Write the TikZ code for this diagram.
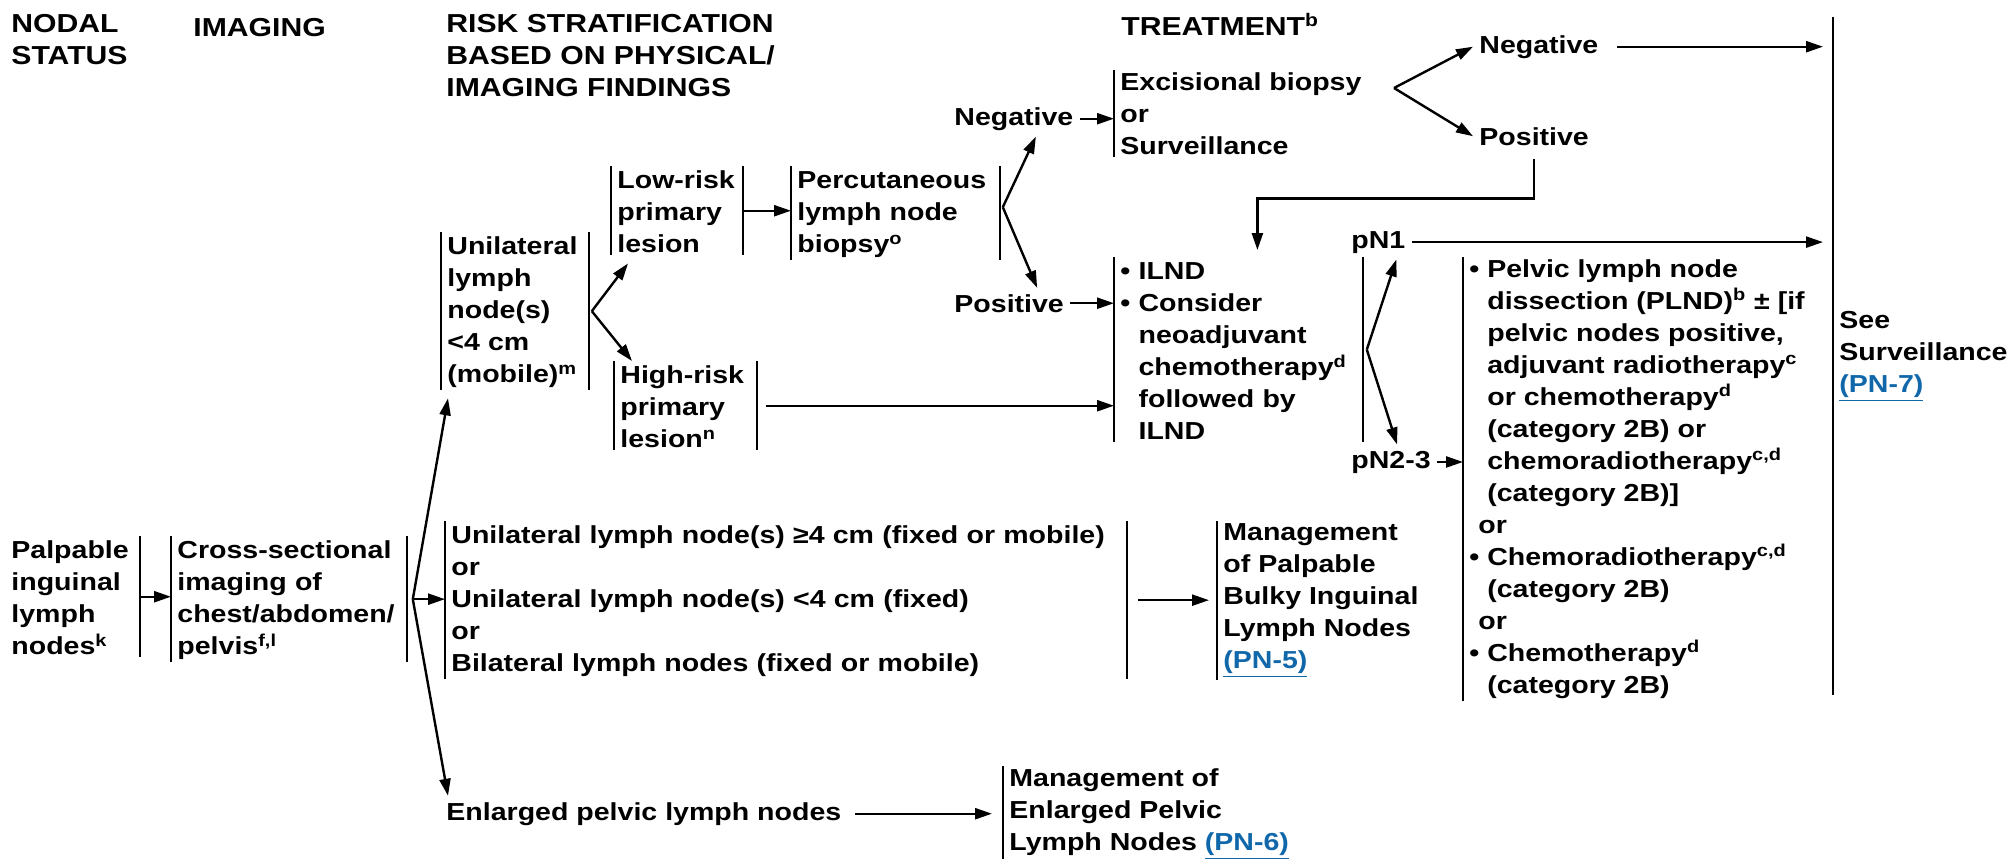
\documentclass[tikz,border=0pt]{standalone}
\usepackage{fontspec}
\setmainfont{Liberation Sans}[FakeStretch=1.16]
\usetikzlibrary{positioning,arrows.meta}
\definecolor{linkblue}{RGB}{16,104,170}
\newcommand{\bodyfont}{\fontsize{12.3}{16}\selectfont\bfseries}
\newcommand{\headfont}{\fontsize{13}{16}\selectfont\bfseries}
\newcommand{\bul}{\textbullet\ }
\newcommand{\indt}{\hphantom{\textbullet\ }}
\newcommand{\lnk}[1]{\textcolor{linkblue}{\underline{#1}}}

\begin{document}
\begin{tikzpicture}[x=0.5pt, y=-0.5pt,
  bx/.style={font=\bodyfont, align=left, inner xsep=3pt, inner ysep=1pt, anchor=north west,
    execute at begin node={\hyphenpenalty=10000\exhyphenpenalty=10000\rule{0pt}{10.2pt}}},
  lab/.style={font=\bodyfont, inner sep=3pt, anchor=base west},
  hd/.style={font=\headfont, align=left, inner sep=0pt, anchor=north west, execute at begin node=\rule{0pt}{11pt}},
  br/.style={draw, line width=1.2pt},
  lb/.style={append after command={(\tikzlastnode.north west) edge[br] (\tikzlastnode.south west)}},
  rb/.style={append after command={(\tikzlastnode.north east) edge[br] (\tikzlastnode.south east)}},
  ar/.style={draw, line width=1.2pt, -{Triangle[length=8.5pt, width=5.5pt]}}]
	\useasboundingbox (0,0) rectangle (2011,858);

	\node[hd] (nodal) at (11,14) {NODAL\\STATUS};
	\node[hd] (imaging) at (193,14) {IMAGING};
	\node[hd] (risk) at (446,14) {RISK STRATIFICATION\\BASED ON PHYSICAL/\\IMAGING FINDINGS};
	\node[hd] (treat) at (1121,13) {TREATMENT\textsuperscript{b}};

	\node[bx, rb, text width=61pt] (palp) at (5,536) {Palpable\\inguinal\\lymph\\nodes\textsuperscript{k}};
	\node[bx, lb, rb, text width=111.5pt] (cross) at (171,536) {Cross-sectional\\imaging of\\chest/abdomen/\\pelvis\textsuperscript{f,l}};
	\node[bx, lb, rb, text width=67.5pt] (uni) at (441,232) {Unilateral\\lymph\\node(s)\\<4 cm\\(mobile)\textsuperscript{m}};
	\node[bx, lb, rb, text width=59.5pt] (low) at (611,166) {Low-risk\\primary\\lesion};
	\node[bx, lb, rb, text width=65pt] (high) at (614,361) {High-risk\\primary\\lesion\textsuperscript{n}};
	\node[bx, lb, rb, text width=98pt] (perc) at (791,166) {Percutaneous\\lymph node\\biopsy\textsuperscript{o}};
	\node[bx, lb, rb, text width=334.5pt] (bulky) at (445,521) {\mbox{Unilateral lymph node(s) ≥4 cm (fixed or mobile)}\\or\\Unilateral lymph node(s) <4 cm (fixed)\\or\\Bilateral lymph nodes (fixed or mobile)};
	\node[lab] (enl) at (440,820) {Enlarged pelvic lymph nodes};
	\node[bx, lb] (mgmt2) at (1003,766) {Management of\\Enlarged Pelvic\\Lymph Nodes \lnk{(PN-6)}};
	\node[bx, lb] (mgmt1) at (1217,521) {Management\\of Palpable\\Bulky Inguinal\\Lymph Nodes\\\lnk{(PN-5)}};

	\node[lab] (negA) at (948,125) {Negative};
	\node[lab] (posA) at (948,312) {Positive};
	\node[bx, lb] (exc) at (1114,70) {Excisional biopsy\\or\\Surveillance};
	\node[bx, lb, rb, text width=118pt] (ilnd) at (1114,257) {\bul ILND\\\bul Consider\\\indt neoadjuvant\\\indt chemotherapy\textsuperscript{d}\\\indt followed by\\\indt ILND};
	\node[lab] (negB) at (1473,53) {Negative};
	\node[lab] (posB) at (1473,145) {Positive};
	\node[lab] (pn1) at (1345,248) {pN1};
	\node[lab] (pn23) at (1345,468) {pN2-3};
	\node[bx, lb] (pelv) at (1463,257) {\bul Pelvic lymph node\\\indt dissection (PLND)\textsuperscript{b} ± [if\\\indt pelvic nodes positive,\\\indt adjuvant radiotherapy\textsuperscript{c}\\\indt or chemotherapy\textsuperscript{d}\\\indt (category 2B) or\\\indt chemoradiotherapy\textsuperscript{c,d}\\\indt (category 2B)]\\\hspace*{4.5pt}or\\\bul Chemoradiotherapy\textsuperscript{c,d}\\\indt (category 2B)\\\hspace*{4.5pt}or\\\bul Chemotherapy\textsuperscript{d}\\\indt (category 2B)};
	\node[bx, lb, anchor=west, minimum height=339pt] (see) at (1833,356) {See\\Surveillance\\\lnk{(PN-7)}};

	\coordinate (cf) at ([xshift=3pt]cross.east);
	\coordinate (uf) at ([xshift=1.5pt]uni.east);
	\coordinate (pf) at ([xshift=1.5pt,yshift=3pt]perc.east);
	\coordinate (ef) at (1394,88);
	\coordinate (lf) at ([xshift=2pt]ilnd.east);

	\draw[ar] (palp.east) -- (palp.east -| cross.west);
	\draw[ar] (cf) -- ([xshift=3.5pt,yshift=-4pt]uni.south west);
	\draw[ar] (cf) -- (cf -| bulky.west);
	\draw[ar] (cf) -- ([xshift=4pt]enl.north west);
	\draw[ar] (uf) -- ([xshift=8.5pt,yshift=-4pt]low.south west);
	\draw[ar] (uf) -- ([xshift=9pt]high.north west);
	\draw[ar] (low.east) -- (low.east -| perc.west);
	\draw[ar, shorten <=4.5pt] (high.east) -- (high.east -| ilnd.west);
	\draw[ar] (pf) -- ([xshift=11pt]negA.south);
	\draw[ar] (pf) -- ([xshift=14pt]posA.north);
	\draw[ar] (negA.east) -- (negA.east -| exc.west);
	\draw[ar] (posA.east) -- (posA.east -| ilnd.west);
	\draw[ar] (ef) -- (negB.west);
	\draw[ar] (ef) -- (posB.west);
	\draw[ar, shorten <=6pt, shorten >=5pt] (negB.east) -- (negB.east -| see.west);
	\draw[ar, shorten <=3.5pt, shorten >=3.5pt] (posB.south) -- ++(0,47) -| ([xshift=9.5pt]ilnd.north);
	\draw[ar] (lf) -- ([xshift=9pt]pn1.south);
	\draw[ar] (lf) -- ([xshift=3pt]pn23.north);
	\draw[ar, shorten >=5pt] (pn1.east) -- (pn1.east -| see.west);
	\draw[ar] (pn23.east) -- (pn23.east -| pelv.west);
	\draw[ar, shorten <=5.5pt, shorten >=4pt] (bulky.east) -- (bulky.east -| mgmt1.west);
	\draw[ar, shorten <=3.5pt, shorten >=5.5pt] (enl.east) -- (enl.east -| mgmt2.west);
\end{tikzpicture}
\end{document}
